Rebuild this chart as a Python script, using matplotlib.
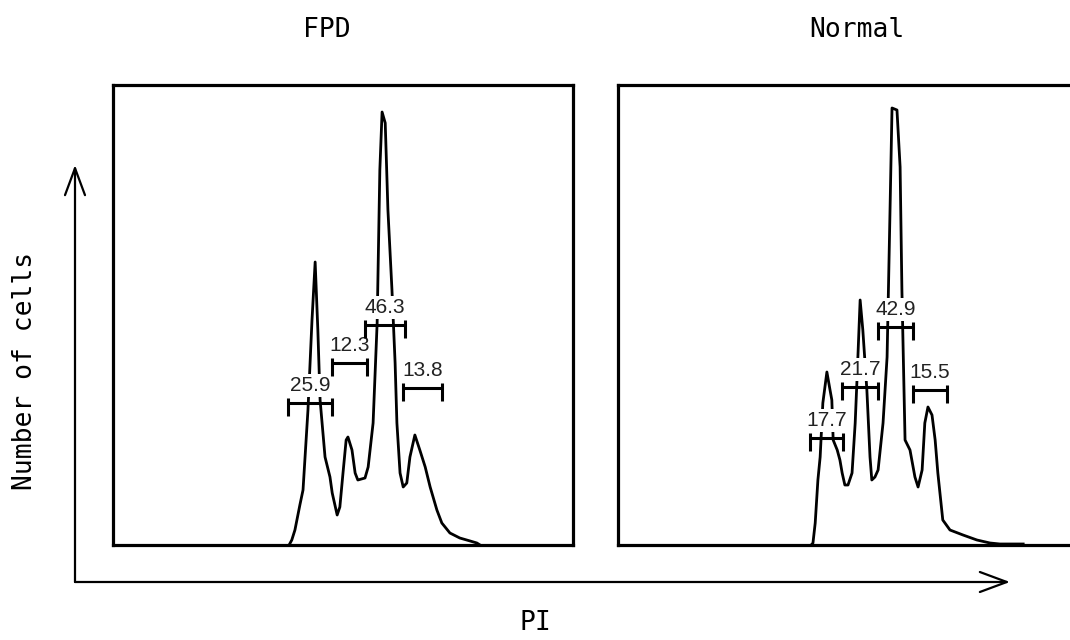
import matplotlib.pyplot as plt
import numpy as np

# PI channel / cell counts
fpdPI = [392, 398, 405, 416, 423, 434, 443, 450, 456, 461, 472, 483, 488, 499, 505, 512, 519, 523,
         532, 539, 545, 561, 568, 579, 588, 594, 599, 606, 612, 621, 628, 632, 639, 646, 654, 661,
         672, 683, 695, 706, 721, 732, 750, 772, 795, 810, 817]
fpdCells = [0, 5, 15, 40, 55, 135, 225, 283, 215, 145, 88, 68, 52, 30, 38, 72, 105, 108,
            95, 72, 65, 67, 78, 122, 222, 375, 433, 422, 335, 255, 182, 122, 72, 58, 62, 88,
            110, 95, 78, 58, 35, 22, 12, 7, 4, 2, 0]

normalPI = [430, 434, 439, 445, 450, 456, 465, 472, 476, 479, 488, 494, 499, 505, 512, 521, 528,
            532, 539, 545, 554, 561, 565, 572, 579, 590, 599, 606, 610, 621, 628, 632, 639, 650,
            661, 668, 677, 683, 690, 699, 706, 712, 723, 739, 768, 799, 828, 850, 902]
normalCells = [0, 2, 22, 65, 88, 142, 173, 155, 145, 105, 95, 85, 72, 60, 60, 72, 122,
               165, 245, 215, 155, 88, 65, 68, 75, 122, 188, 345, 437, 435, 378, 255, 105, 95,
               68, 58, 75, 122, 138, 130, 105, 72, 25, 15, 10, 5, 2, 1, 1]

# gates: start, end, height, percent label
fpdGateStart = [390, 488, 561, 646]
fpdGateEnd = [488, 565, 650, 732]
fpdGateY = [142, 182, 220, 157]
fpdGateLabels = ['25.9', '12.3', '46.3', '13.8']

normalGateStart = [427, 499, 579, 657]
normalGateEnd = [501, 579, 657, 732]
normalGateY = [107, 158, 218, 155]
normalGateLabels = ['17.7', '21.7', '42.9', '15.5']

titleFont = 'DejaVu Sans Mono'
labelFont = 'Liberation Sans'


def drawPanel(ax, pi, cells, gStart, gEnd, gY, gLabels):
    ax.plot(pi, cells, color='black', linewidth=2.0, solid_joinstyle='round', zorder=2)
    for x0, x1, y, lab in zip(gStart, gEnd, gY, gLabels):
        ax.plot([x0, x1], [y, y], color='black', linewidth=2.2, solid_capstyle='butt', zorder=4)
        ax.plot([x0, x0], [y - 13, y + 5], color='black', linewidth=2.2, solid_capstyle='butt', zorder=4)
        ax.plot([x1, x1], [y - 13, y + 5], color='black', linewidth=2.2, solid_capstyle='butt', zorder=4)
        ax.text((x0 + x1) / 2, y + 12, lab, ha='center', va='baseline',
                fontsize=15, family=labelFont, color='#222222', zorder=3,
                bbox=dict(facecolor='white', edgecolor='none', pad=1.5))
    ax.set_xlim(0, 1024)
    ax.set_ylim(0, 460)
    ax.set_xticks([])
    ax.set_yticks([])
    for s in ax.spines.values():
        s.set_linewidth(2.3)


fig = plt.figure(figsize=(10.7, 6.4), dpi=100)

# overlay in pixel coordinates for the outer arrows and labels
overlay = fig.add_axes([0, 0, 1, 1])
overlay.set_xlim(0, 1070)
overlay.set_ylim(640, 0)
overlay.axis('off')

axLeft = fig.add_axes([113 / 1070, 95 / 640, 460 / 1070, 460 / 640])
axRight = fig.add_axes([618 / 1070, 95 / 640, 460 / 1070, 460 / 640])

drawPanel(axLeft, fpdPI, fpdCells, fpdGateStart, fpdGateEnd, fpdGateY, fpdGateLabels)
drawPanel(axRight, normalPI, normalCells, normalGateStart, normalGateEnd, normalGateY, normalGateLabels)

arrow = dict(arrowstyle='->, head_length=0.97, head_width=0.36', color='black',
             linewidth=1.6, mutation_scale=20, shrinkA=0, shrinkB=0)
overlay.annotate('', xy=(75, 165), xytext=(75, 582), arrowprops=arrow)
overlay.annotate('', xy=(1010, 582), xytext=(75, 582), arrowprops=arrow)

overlay.text(327, 30, 'FPD', ha='center', va='center', fontsize=19, family=titleFont)
overlay.text(857, 30, 'Normal', ha='center', va='center', fontsize=19, family=titleFont)
overlay.text(25, 371, 'Number of cells', ha='center', va='center', rotation=90,
             fontsize=19, family=titleFont)
overlay.text(535, 623, 'PI', ha='center', va='center', fontsize=19, family=titleFont)

plt.savefig('out.png', dpi=100)
